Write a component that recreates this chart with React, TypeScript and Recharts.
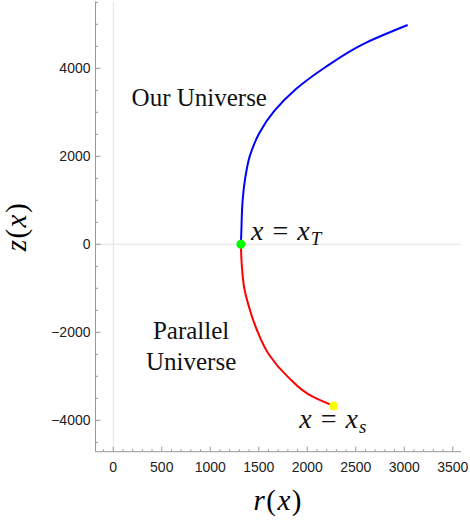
import React from "react";
import { LineChart, Line, XAxis, YAxis, ReferenceLine, ReferenceDot } from "recharts";

// curve: r(x) against z(x), both branches ordered by rising z
const blueR = [1316, 1320, 1334, 1361, 1409, 1505, 1660, 1884, 2193, 2571, 3035];
const blueZ = [0, 250, 1007, 1514, 2014, 2523, 3030, 3530, 4036, 4545, 4984];
const redR = [2272, 2056, 1798, 1608, 1481, 1409, 1351, 1324, 1316];
const redZ = [-3675, -3464, -3008, -2516, -1948, -1493, -1000, -432, 0];

const xLabels = [0, 500, 1000, 1500, 2000, 2500, 3000, 3500];
const yLabels = [-4000, -2000, 0, 2000, 4000];

const noteText = ["Our Universe", "Parallel", "Universe"];
const noteR = [887, 803, 803];
const noteZ = [3143, -2152, -2857];

const markSub = ["T", "s"];
const markR = [1420, 1918];
const markZ = [98, -4175];

const X_DOMAIN: [number, number] = [-183, 3585];
const Y_DOMAIN: [number, number] = [-4714, 5518];

const blue = blueR.map((r, i) => ({ r, z: blueZ[i] }));
const red = redR.map((r, i) => ({ r, z: redZ[i] }));

// minor ticks every 100 on r, every 500 on z
const xTicks: number[] = [];
for (let v = -100; v <= 3500; v += 100) xTicks.push(v);
const yTicks: number[] = [];
for (let v = -4500; v <= 5500; v += 500) yTicks.push(v);

const FRAME = "#999";
const TICK_FONT = "'Liberation Sans', Arial, sans-serif";
const SERIF = "'Liberation Serif', 'Times New Roman', serif";

const fmt = (v: number) => String(v).replace("-", "\u2212");

function BottomTick({ x, y, payload }: any) {
  const major = xLabels.includes(payload.value);
  return (
    <g>
      <line x1={x} y1={y} x2={x} y2={y - (major ? 5 : 2.5)} stroke={FRAME} />
      {major && (
        <text x={x} y={y + 20} textAnchor="middle" fontFamily={TICK_FONT} fontSize={14} fill="#222">
          {fmt(payload.value)}
        </text>
      )}
    </g>
  );
}

function TopTick({ x, y, payload }: any) {
  const major = xLabels.includes(payload.value);
  return <line x1={x} y1={y} x2={x} y2={y + (major ? 5 : 2.5)} stroke={FRAME} />;
}

function LeftTick({ x, y, payload }: any) {
  const major = yLabels.includes(payload.value);
  return (
    <g>
      <line x1={x} y1={y} x2={x + (major ? 5 : 2.5)} y2={y} stroke={FRAME} />
      {major && (
        <text x={x - 5} y={y + 5} textAnchor="end" fontFamily={TICK_FONT} fontSize={14} fill="#222">
          {fmt(payload.value)}
        </text>
      )}
    </g>
  );
}

function RightTick({ x, y, payload }: any) {
  const major = yLabels.includes(payload.value);
  return <line x1={x} y1={y} x2={x - (major ? 5 : 2.5)} y2={y} stroke={FRAME} />;
}

function AxisTitle({ name, x, y, rotate }: { name: string; x: number; y: number; rotate?: boolean }) {
  return (
    <text
      x={x}
      y={y}
      textAnchor="middle"
      fontFamily={SERIF}
      fontSize={29}
      letterSpacing={1.5}
      fill="#000"
      transform={rotate ? `rotate(-90, ${x}, ${y})` : undefined}
    >
      <tspan fontStyle="italic">{name}</tspan>
      <tspan>(</tspan>
      <tspan fontStyle="italic">x</tspan>
      <tspan>)</tspan>
    </text>
  );
}

function Note({ viewBox, text }: any) {
  const cx = viewBox.x + viewBox.width / 2;
  const cy = viewBox.y + viewBox.height / 2;
  return (
    <text x={cx} y={cy} textAnchor="middle" fontFamily={SERIF} fontSize={25} fill="#111">
      {text}
    </text>
  );
}

function Mark({ viewBox, sub }: any) {
  const cx = viewBox.x + viewBox.width / 2;
  const cy = viewBox.y + viewBox.height / 2;
  return (
    <text x={cx} y={cy} fontFamily={SERIF} fontSize={28} fill="#111">
      <tspan fontStyle="italic">x</tspan>
      <tspan dx={9}>=</tspan>
      <tspan dx={9} fontStyle="italic">x</tspan>
      <tspan dx={1} dy={5} fontSize={19} fontStyle="italic">
        {sub}
      </tspan>
    </text>
  );
}

export default function App() {
  return (
    <div style={{ position: "absolute", left: 0, top: 0, width: 470, height: 521, background: "#fff" }}>
      <LineChart width={470} height={521} margin={{ top: 1.5, right: 9, bottom: 0, left: 0 }}>
        <XAxis
          dataKey="r"
          type="number"
          domain={X_DOMAIN}
          allowDataOverflow
          ticks={xTicks}
          interval={0}
          tickSize={0}
          tickMargin={0}
          tickLine={false}
          tick={BottomTick}
          axisLine={{ stroke: FRAME }}
          height={69.3}
          label={(p: any) => (
            <AxisTitle name="r" x={p.viewBox.x + p.viewBox.width / 2} y={p.viewBox.y + 58} />
          )}
        />
        <XAxis
          xAxisId="top"
          orientation="top"
          dataKey="r"
          type="number"
          domain={X_DOMAIN}
          allowDataOverflow
          ticks={xTicks}
          interval={0}
          tickSize={0}
          tickMargin={0}
          tickLine={false}
          tick={TopTick}
          axisLine={{ stroke: FRAME }}
          height={0}
        />
        <YAxis
          dataKey="z"
          type="number"
          domain={Y_DOMAIN}
          allowDataOverflow
          ticks={yTicks}
          interval={0}
          tickSize={0}
          tickMargin={0}
          tickLine={false}
          tick={LeftTick}
          axisLine={{ stroke: FRAME }}
          width={95.5}
          label={(p: any) => (
            <AxisTitle name="z" x={p.viewBox.x + 26} y={p.viewBox.y + p.viewBox.height / 2} rotate />
          )}
        />
        <YAxis
          yAxisId="right"
          orientation="right"
          dataKey="z"
          type="number"
          domain={Y_DOMAIN}
          allowDataOverflow
          ticks={yTicks}
          interval={0}
          tickSize={0}
          tickMargin={0}
          tickLine={false}
          tick={RightTick}
          axisLine={{ stroke: FRAME }}
          width={0}
        />
        <ReferenceLine x={0} stroke="#e4e4e4" />
        <ReferenceLine y={0} stroke="#e4e4e4" />
        <Line data={blue} dataKey="z" type="monotoneY" stroke="#0000ff" strokeWidth={2} dot={false} isAnimationActive={false} />
        <Line data={red} dataKey="z" type="monotoneY" stroke="#ff0000" strokeWidth={2} dot={false} isAnimationActive={false} />
        <ReferenceDot x={blueR[0]} y={blueZ[0]} r={4.5} fill="#00ff00" stroke="none" />
        <ReferenceDot x={redR[0]} y={redZ[0]} r={4.5} fill="#ffff00" stroke="none" />
        {noteText.map((t, i) => (
          <ReferenceDot key={t + i} x={noteR[i]} y={noteZ[i]} r={1} fill="none" stroke="none" label={<Note text={t} />} />
        ))}
        {markSub.map((s, i) => (
          <ReferenceDot key={s} x={markR[i]} y={markZ[i]} r={1} fill="none" stroke="none" label={<Mark sub={s} />} />
        ))}
      </LineChart>
    </div>
  );
}
